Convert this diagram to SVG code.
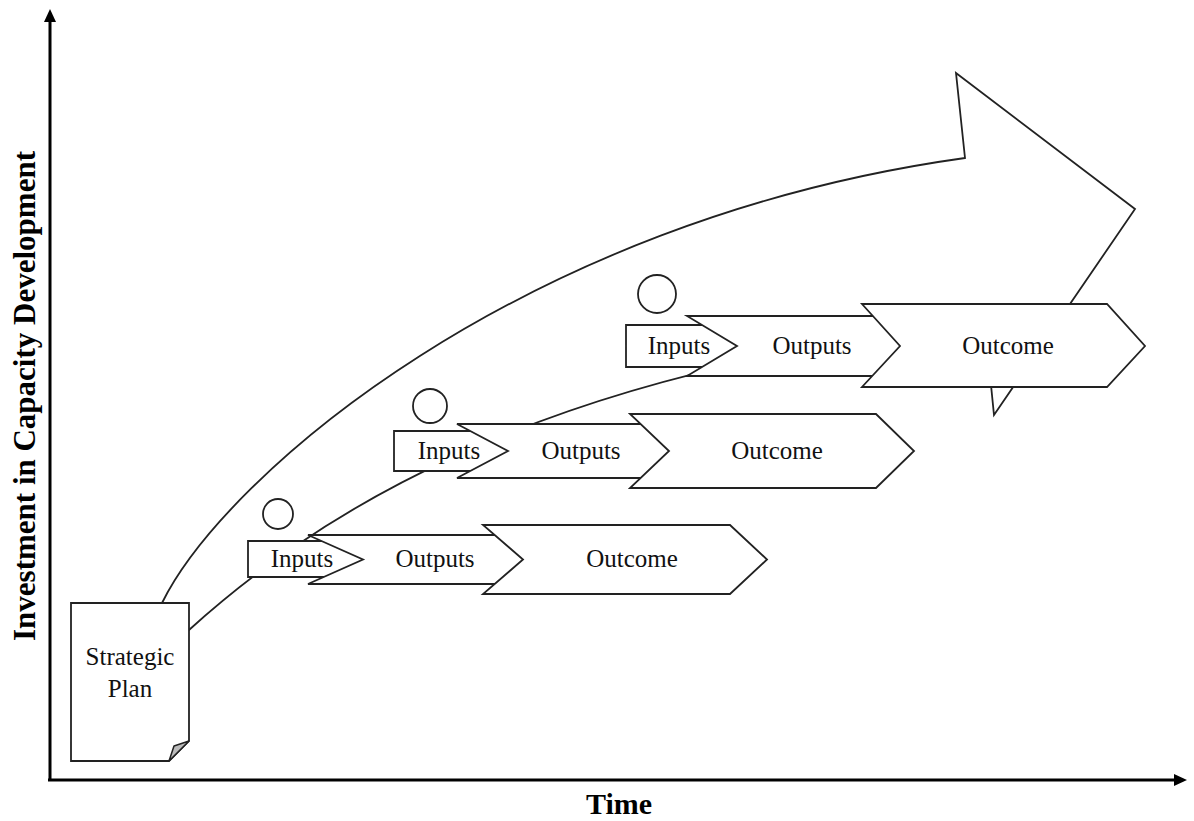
<svg xmlns="http://www.w3.org/2000/svg" width="1194" height="821" viewBox="0 0 1194 821">
<style>
.shape{fill:#fff;stroke:#222;stroke-width:1.8;stroke-linejoin:miter}
.lbl{font-family:"Liberation Serif","Times New Roman",serif;font-size:25px;fill:#111;text-anchor:middle}
.axis{stroke:#000;stroke-width:3;fill:none}
.axlbl{font-family:"Liberation Serif","Times New Roman",serif;font-size:31px;font-weight:bold;fill:#000;text-anchor:middle}
</style>
<defs>
<marker id="ah" markerUnits="userSpaceOnUse" markerWidth="14" markerHeight="12" refX="2" refY="6" orient="auto">
<path d="M0,0 L13,6 L0,12 Z" fill="#000"/>
</marker>
</defs>
<rect width="1194" height="821" fill="#fff"/>
<g id="axes">
<line class="axis" x1="50" y1="781" x2="50" y2="20" marker-end="url(#ah)"/>
<line class="axis" x1="48" y1="780" x2="1176" y2="780" marker-end="url(#ah)"/>
<text class="axlbl" transform="translate(35,396) rotate(-90)">Investment in Capacity Development</text>
<text class="axlbl" x="619" y="814" style="font-size:30px">Time</text>
</g>
<g id="connectors">
<path id="big-arrow" class="shape" d="M162,603 C225,475 520,220 965,158 L956,73 L1135,209 L994,415 L985,325 C520,370 300,530 189,630 Z"/>
</g>
<g id="strategic-plan">
<path class="shape" d="M71,603 L189,603 L189,741 L169,761 L71,761 Z"/>
<path d="M189,741 L169,761 L174,746 Z" fill="#bbb" stroke="#222" stroke-width="1.5" stroke-linejoin="round"/>
<text class="lbl" x="130" y="665">Strategic</text>
<text class="lbl" x="130" y="697">Plan</text>
</g>
<g id="row1">
<circle class="shape" cx="278" cy="514" r="15"/>
<path class="shape" d="M248,541 L330,541 L375,559.5 L330,577 L248,577 Z"/>
<path class="shape" d="M308,535 L505,535 L545,559.5 L505,584 L308,584 L363,559.5 Z"/>
<path class="shape" d="M483,525 L730,525 L767,559.5 L730,594 L483,594 L523,559.5 Z"/>
<text class="lbl" x="302" y="567">Inputs</text>
<text class="lbl" x="435" y="567">Outputs</text>
<text class="lbl" x="632" y="567">Outcome</text>
</g>
<g id="row2">
<circle class="shape" cx="430" cy="406" r="17"/>
<path class="shape" d="M394,431 L478,431 L525,451 L478,471 L394,471 Z"/>
<path class="shape" d="M457,424 L650,424 L690,451 L650,478 L457,478 L508,451 Z"/>
<path class="shape" d="M630,414 L876,414 L914,451 L876,488 L630,488 L669,451 Z"/>
<text class="lbl" x="449" y="459">Inputs</text>
<text class="lbl" x="581" y="459">Outputs</text>
<text class="lbl" x="777" y="459">Outcome</text>
</g>
<g id="row3">
<circle class="shape" cx="657" cy="294" r="19"/>
<path class="shape" d="M626,325 L710,325 L752,346 L710,367 L626,367 Z"/>
<path class="shape" d="M687,316 L880,316 L920,346 L880,376 L687,376 L737,346 Z"/>
<path class="shape" d="M862,304 L1107,304 L1145,346 L1107,387 L862,387 L900,346 Z"/>
<text class="lbl" x="679" y="354">Inputs</text>
<text class="lbl" x="812" y="354">Outputs</text>
<text class="lbl" x="1008" y="354">Outcome</text>
</g>
</svg>
